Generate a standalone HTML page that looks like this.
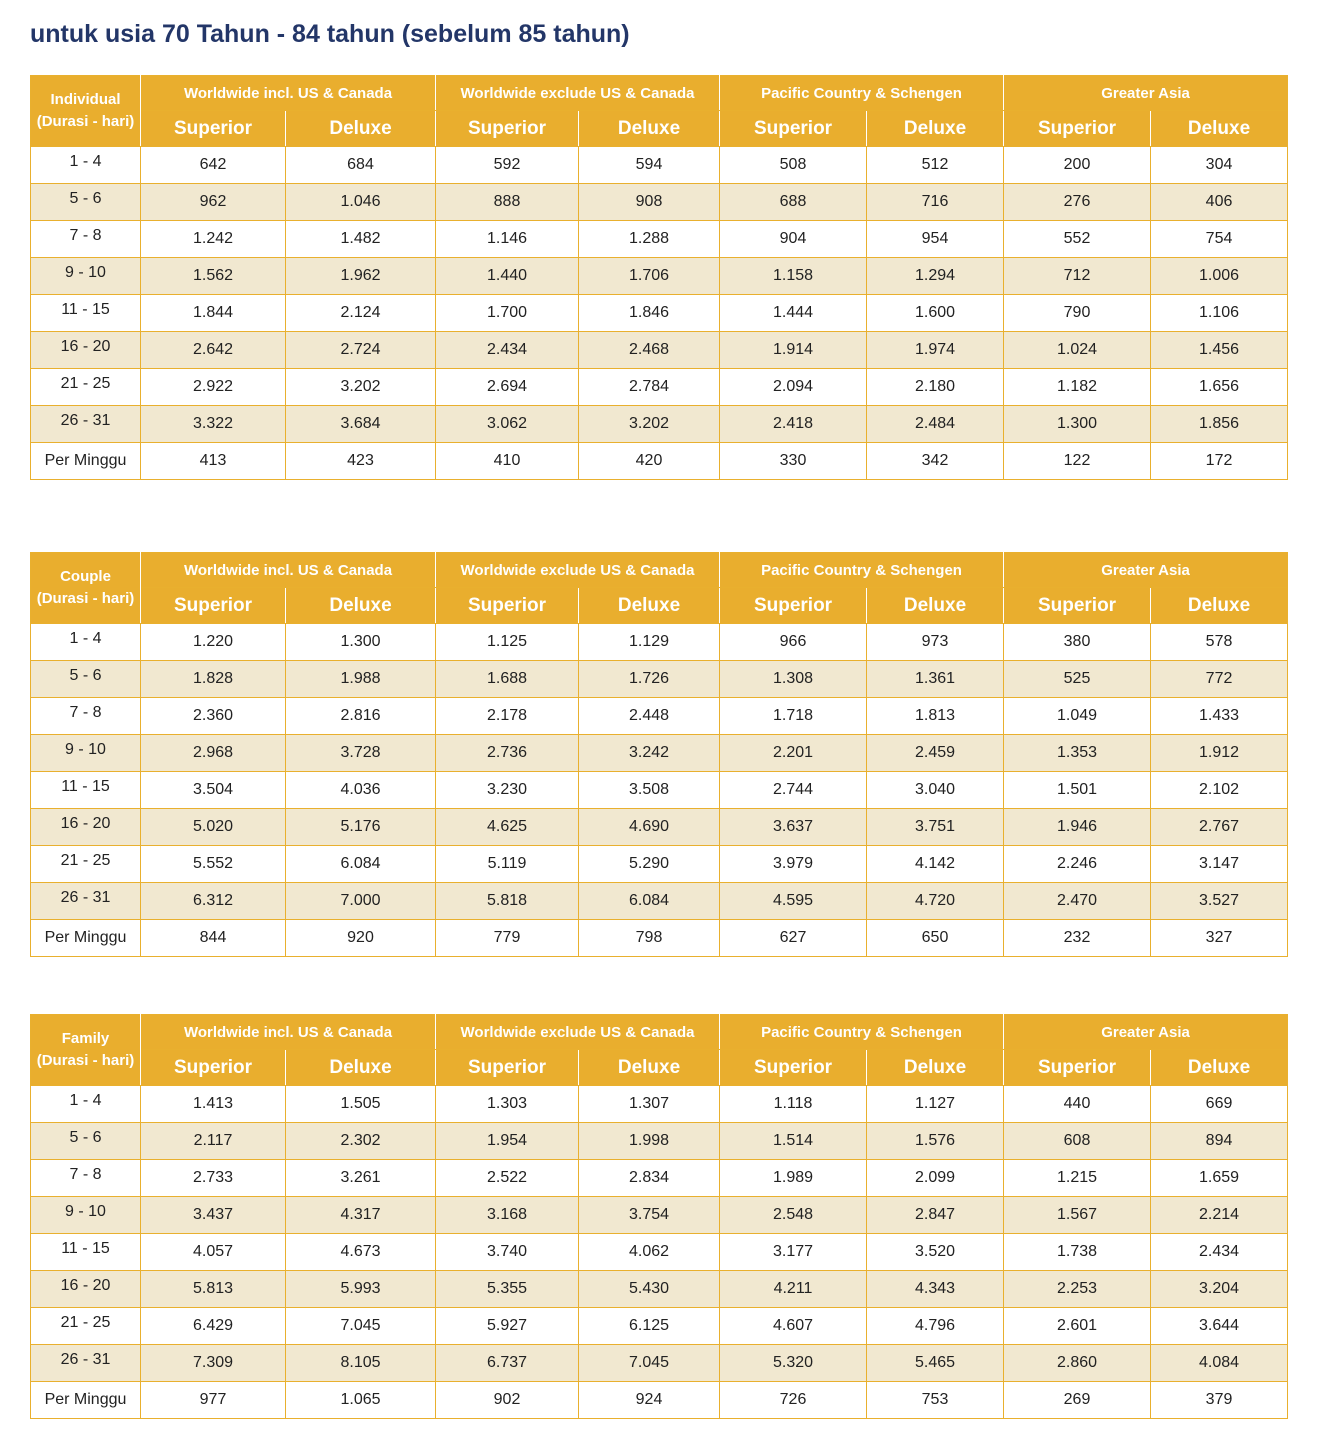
<!DOCTYPE html><html><head><meta charset="utf-8"><style>
body{margin:0;width:1320px;height:1439px;background:#fff;font-family:"Liberation Sans",sans-serif;position:relative;overflow:hidden}
h1{position:absolute;left:30px;top:20px;margin:0;font-size:25px;font-weight:bold;color:#233668;letter-spacing:0px}
table{position:absolute;left:30px;border-collapse:collapse;table-layout:fixed;width:1257px}
td{border:1.5px solid #e9b02e;text-align:center;font-size:16px;color:#222;padding:0;height:36px}
tr.h td{background:#e9ae2e;color:#fff;font-weight:bold}
tr.h1 td{font-size:15px;height:34px}
tr.h2 td{font-size:19px;height:35px;border-top:1.5px solid #fff}
tr.h td{border-left-color:#fff;border-right-color:#fff}
tr.h td:first-child{border-left-color:#e9b02e}
tr.h td:last-child{border-right-color:#e9b02e}
td.lab{font-size:15px;line-height:22px}
tr.a td{background:#f1e8d0}
tr.d td:first-child{vertical-align:top;padding-top:6px;height:30px}
</style></head><body>
<h1>untuk usia 70 Tahun - 84 tahun (sebelum 85 tahun)</h1>

<table style="top:75px">
<colgroup><col style="width:110px"><col style="width:145px"><col style="width:150px"><col style="width:143px"><col style="width:141px"><col style="width:147px"><col style="width:137px"><col style="width:147px"><col style="width:137px"></colgroup>
<tr class="h h1"><td rowspan="2" class="lab">Individual<br>(Durasi - hari)</td><td colspan="2">Worldwide incl. US &amp; Canada</td><td colspan="2">Worldwide exclude US &amp; Canada</td><td colspan="2">Pacific Country &amp; Schengen</td><td colspan="2">Greater Asia</td></tr>
<tr class="h h2"><td>Superior</td><td>Deluxe</td><td>Superior</td><td>Deluxe</td><td>Superior</td><td>Deluxe</td><td>Superior</td><td>Deluxe</td></tr>
<tr class="d"><td>1 - 4</td><td>642</td><td>684</td><td>592</td><td>594</td><td>508</td><td>512</td><td>200</td><td>304</td></tr>
<tr class="d a"><td>5 - 6</td><td>962</td><td>1.046</td><td>888</td><td>908</td><td>688</td><td>716</td><td>276</td><td>406</td></tr>
<tr class="d"><td>7 - 8</td><td>1.242</td><td>1.482</td><td>1.146</td><td>1.288</td><td>904</td><td>954</td><td>552</td><td>754</td></tr>
<tr class="d a"><td>9 - 10</td><td>1.562</td><td>1.962</td><td>1.440</td><td>1.706</td><td>1.158</td><td>1.294</td><td>712</td><td>1.006</td></tr>
<tr class="d"><td>11 - 15</td><td>1.844</td><td>2.124</td><td>1.700</td><td>1.846</td><td>1.444</td><td>1.600</td><td>790</td><td>1.106</td></tr>
<tr class="d a"><td>16 - 20</td><td>2.642</td><td>2.724</td><td>2.434</td><td>2.468</td><td>1.914</td><td>1.974</td><td>1.024</td><td>1.456</td></tr>
<tr class="d"><td>21 - 25</td><td>2.922</td><td>3.202</td><td>2.694</td><td>2.784</td><td>2.094</td><td>2.180</td><td>1.182</td><td>1.656</td></tr>
<tr class="d a"><td>26 - 31</td><td>3.322</td><td>3.684</td><td>3.062</td><td>3.202</td><td>2.418</td><td>2.484</td><td>1.300</td><td>1.856</td></tr>
<tr><td>Per Minggu</td><td>413</td><td>423</td><td>410</td><td>420</td><td>330</td><td>342</td><td>122</td><td>172</td></tr>
</table>

<table style="top:552px">
<colgroup><col style="width:110px"><col style="width:145px"><col style="width:150px"><col style="width:143px"><col style="width:141px"><col style="width:147px"><col style="width:137px"><col style="width:147px"><col style="width:137px"></colgroup>
<tr class="h h1"><td rowspan="2" class="lab">Couple<br>(Durasi - hari)</td><td colspan="2">Worldwide incl. US &amp; Canada</td><td colspan="2">Worldwide exclude US &amp; Canada</td><td colspan="2">Pacific Country &amp; Schengen</td><td colspan="2">Greater Asia</td></tr>
<tr class="h h2"><td>Superior</td><td>Deluxe</td><td>Superior</td><td>Deluxe</td><td>Superior</td><td>Deluxe</td><td>Superior</td><td>Deluxe</td></tr>
<tr class="d"><td>1 - 4</td><td>1.220</td><td>1.300</td><td>1.125</td><td>1.129</td><td>966</td><td>973</td><td>380</td><td>578</td></tr>
<tr class="d a"><td>5 - 6</td><td>1.828</td><td>1.988</td><td>1.688</td><td>1.726</td><td>1.308</td><td>1.361</td><td>525</td><td>772</td></tr>
<tr class="d"><td>7 - 8</td><td>2.360</td><td>2.816</td><td>2.178</td><td>2.448</td><td>1.718</td><td>1.813</td><td>1.049</td><td>1.433</td></tr>
<tr class="d a"><td>9 - 10</td><td>2.968</td><td>3.728</td><td>2.736</td><td>3.242</td><td>2.201</td><td>2.459</td><td>1.353</td><td>1.912</td></tr>
<tr class="d"><td>11 - 15</td><td>3.504</td><td>4.036</td><td>3.230</td><td>3.508</td><td>2.744</td><td>3.040</td><td>1.501</td><td>2.102</td></tr>
<tr class="d a"><td>16 - 20</td><td>5.020</td><td>5.176</td><td>4.625</td><td>4.690</td><td>3.637</td><td>3.751</td><td>1.946</td><td>2.767</td></tr>
<tr class="d"><td>21 - 25</td><td>5.552</td><td>6.084</td><td>5.119</td><td>5.290</td><td>3.979</td><td>4.142</td><td>2.246</td><td>3.147</td></tr>
<tr class="d a"><td>26 - 31</td><td>6.312</td><td>7.000</td><td>5.818</td><td>6.084</td><td>4.595</td><td>4.720</td><td>2.470</td><td>3.527</td></tr>
<tr><td>Per Minggu</td><td>844</td><td>920</td><td>779</td><td>798</td><td>627</td><td>650</td><td>232</td><td>327</td></tr>
</table>

<table style="top:1014px">
<colgroup><col style="width:110px"><col style="width:145px"><col style="width:150px"><col style="width:143px"><col style="width:141px"><col style="width:147px"><col style="width:137px"><col style="width:147px"><col style="width:137px"></colgroup>
<tr class="h h1"><td rowspan="2" class="lab">Family<br>(Durasi - hari)</td><td colspan="2">Worldwide incl. US &amp; Canada</td><td colspan="2">Worldwide exclude US &amp; Canada</td><td colspan="2">Pacific Country &amp; Schengen</td><td colspan="2">Greater Asia</td></tr>
<tr class="h h2"><td>Superior</td><td>Deluxe</td><td>Superior</td><td>Deluxe</td><td>Superior</td><td>Deluxe</td><td>Superior</td><td>Deluxe</td></tr>
<tr class="d"><td>1 - 4</td><td>1.413</td><td>1.505</td><td>1.303</td><td>1.307</td><td>1.118</td><td>1.127</td><td>440</td><td>669</td></tr>
<tr class="d a"><td>5 - 6</td><td>2.117</td><td>2.302</td><td>1.954</td><td>1.998</td><td>1.514</td><td>1.576</td><td>608</td><td>894</td></tr>
<tr class="d"><td>7 - 8</td><td>2.733</td><td>3.261</td><td>2.522</td><td>2.834</td><td>1.989</td><td>2.099</td><td>1.215</td><td>1.659</td></tr>
<tr class="d a"><td>9 - 10</td><td>3.437</td><td>4.317</td><td>3.168</td><td>3.754</td><td>2.548</td><td>2.847</td><td>1.567</td><td>2.214</td></tr>
<tr class="d"><td>11 - 15</td><td>4.057</td><td>4.673</td><td>3.740</td><td>4.062</td><td>3.177</td><td>3.520</td><td>1.738</td><td>2.434</td></tr>
<tr class="d a"><td>16 - 20</td><td>5.813</td><td>5.993</td><td>5.355</td><td>5.430</td><td>4.211</td><td>4.343</td><td>2.253</td><td>3.204</td></tr>
<tr class="d"><td>21 - 25</td><td>6.429</td><td>7.045</td><td>5.927</td><td>6.125</td><td>4.607</td><td>4.796</td><td>2.601</td><td>3.644</td></tr>
<tr class="d a"><td>26 - 31</td><td>7.309</td><td>8.105</td><td>6.737</td><td>7.045</td><td>5.320</td><td>5.465</td><td>2.860</td><td>4.084</td></tr>
<tr><td>Per Minggu</td><td>977</td><td>1.065</td><td>902</td><td>924</td><td>726</td><td>753</td><td>269</td><td>379</td></tr>
</table>
</body></html>
